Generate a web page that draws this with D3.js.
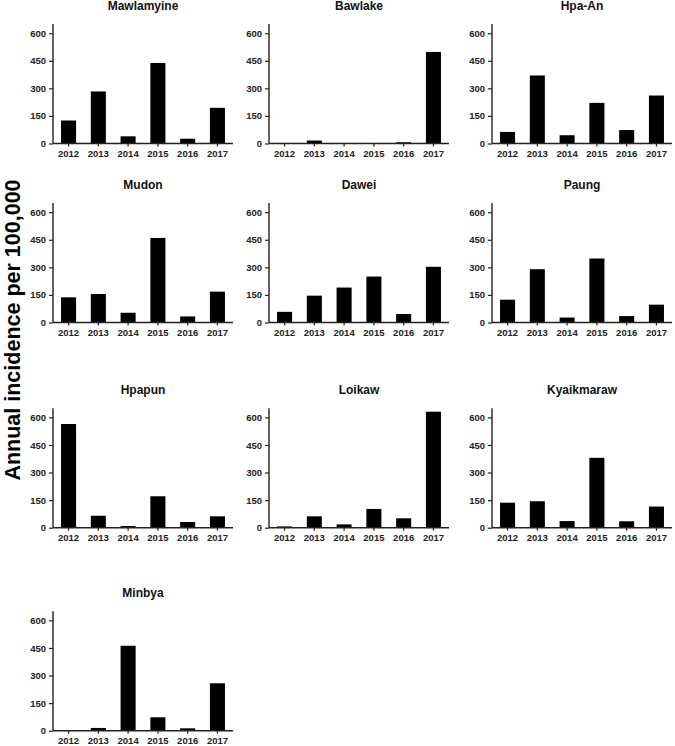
<!DOCTYPE html>
<html><head><meta charset="utf-8">
<script src="https://cdn.jsdelivr.net/npm/d3@7"></script>
<style>body{margin:0;background:#fff;} svg{display:block;}</style>
</head><body>
<svg id="chart" width="675" height="746"></svg>
<script>
const years = ["2012","2013","2014","2015","2016","2017"];
const regions = ["Mawlamyine","Bawlake","Hpa-An","Mudon","Dawei","Paung","Hpapun","Loikaw","Kyaikmaraw","Minbya"];
const mawlamyine = [125, 283, 39, 438, 26, 194];
const bawlake    = [0, 16, 0, 0, 7, 498];
const hpaAn      = [63, 370, 45, 221, 73, 261];
const mudon      = [137, 155, 53, 460, 33, 168];
const dawei      = [58, 146, 190, 250, 46, 303];
const paung      = [124, 290, 27, 348, 35, 97];
const hpapun     = [564, 65, 9, 171, 31, 62];
const loikaw     = [7, 62, 18, 102, 51, 631];
const kyaikmaraw = [136, 144, 36, 380, 35, 115];
const minbya     = [0, 15, 462, 73, 13, 258];
const yTicks = [0, 150, 300, 450, 600];
const yMax = 650;
const yLabel = "Annual incidence per 100,000";

const series = [mawlamyine, bawlake, hpaAn, mudon, dawei, paung, hpapun, loikaw, kyaikmaraw, minbya];

const svg = d3.select("#chart");
const colLeft = [53, 269, 492];
const colWidth = 180;
const rowBase = [143.5, 322.5, 527.7, 730.7];
const plotH = 119.5;
const fontTick = "bold 9.5px 'Liberation Sans', Arial, sans-serif";

regions.forEach((name, i) => {
  const c = i % 3, r = Math.floor(i / 3);
  const x0 = colLeft[c], base = rowBase[r], top = base - plotH;
  const x = d3.scaleBand().domain(years).range([x0, x0 + colWidth]).paddingInner(0.495).paddingOuter(0.27);
  const y = d3.scaleLinear().domain([0, yMax]).range([base, top]);
  const g = svg.append("g");

  g.selectAll("rect").data(series[i]).join("rect")
    .attr("x", (d, j) => x(years[j]))
    .attr("width", x.bandwidth())
    .attr("y", d => y(d))
    .attr("height", d => base - y(d))
    .attr("fill", "#000");

  const ya = g.append("g").attr("transform", `translate(${x0},0)`)
    .call(d3.axisLeft(y).tickValues(yTicks).tickSize(4).tickPadding(3).tickSizeOuter(0));
  const xa = g.append("g").attr("transform", `translate(0,${base})`)
    .call(d3.axisBottom(x).tickSize(3).tickPadding(4).tickSizeOuter(0));
  [ya, xa].forEach(a => {
    a.select(".domain").attr("stroke", "#222").attr("stroke-width", 1.4);
    a.selectAll(".tick line").attr("stroke", "#222").attr("stroke-width", 1.2);
    a.selectAll("text").style("font", fontTick).attr("fill", "#222");
  });
  ya.select(".domain").attr("d", `M0,${base}V${top}`);
  xa.select(".domain").attr("d", `M${x0},0H${x0 + colWidth}`);

  g.append("text")
    .attr("x", x0 + colWidth / 2).attr("y", top - 14.5)
    .attr("text-anchor", "middle")
    .style("font", "bold 12px 'Liberation Sans', Arial, sans-serif")
    .attr("fill", "#111")
    .text(name);
});

svg.append("text")
  .attr("transform", "translate(20,330) rotate(-90)")
  .attr("text-anchor", "middle")
  .style("font", "bold 21.5px 'Liberation Sans', Arial, sans-serif")
  .attr("fill", "#000")
  .text(yLabel);
</script>
</body></html>
